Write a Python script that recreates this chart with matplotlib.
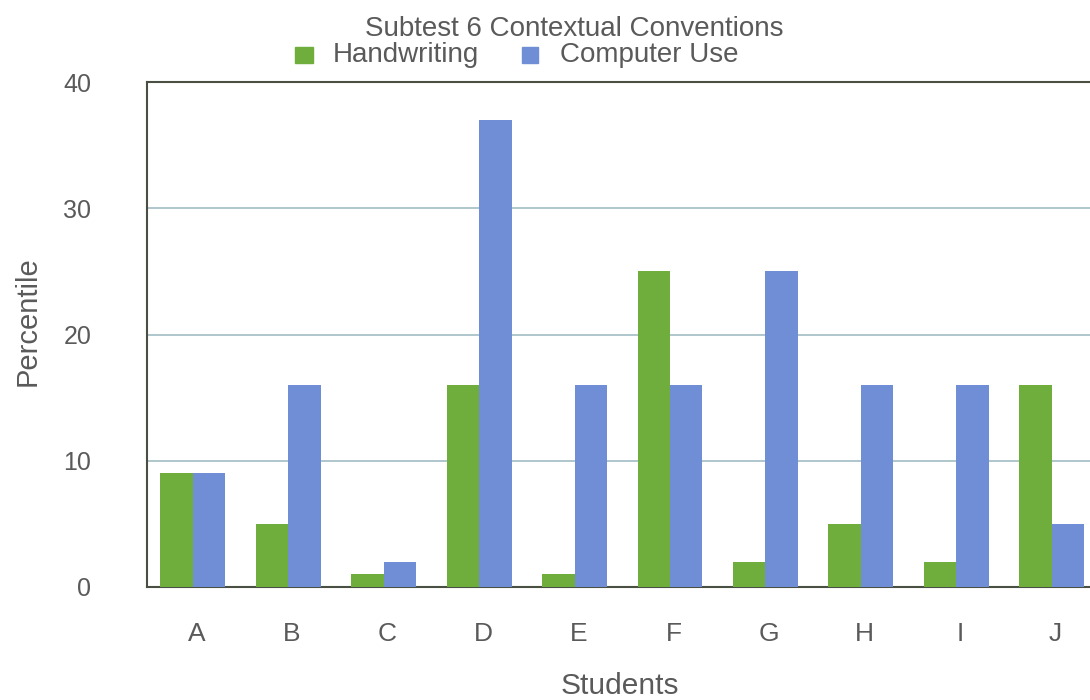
import numpy as np
import matplotlib
matplotlib.use("Agg")
import matplotlib.pyplot as plt
from matplotlib.patches import Rectangle

plt.rcParams["font.family"] = ["Liberation Sans", "DejaVu Sans"]

students = ["A", "B", "C", "D", "E", "F", "G", "H", "I", "J"]
handwriting = [9, 5, 1, 16, 1, 25, 2, 5, 2, 16]
computer_use = [9, 16, 2, 37, 16, 16, 25, 16, 16, 5]
y_ticks = [0, 10, 20, 30, 40]

green = "#6fae3c"
blue = "#6f8ed6"
text_color = "#5a5a5a"

W, H = 1090, 700
fig = plt.figure(figsize=(W / 100, H / 100), dpi=100)
ax = fig.add_axes([147 / W, 1 - 587 / H, 1 - 147 / W, (587 - 82) / H])

x = np.arange(len(students))
w = 0.34
ax.bar(x - w / 2, handwriting, width=w, color=green, zorder=3)
ax.bar(x + w / 2, computer_use, width=w, color=blue, zorder=3)

ax.set_xlim(-0.48, 9.40)
ax.set_ylim(0, 40)
ax.set_yticks(y_ticks)
ax.set_xticks(x + 0.04)
ax.set_xticklabels(students)
ax.tick_params(axis="both", length=0, colors=text_color)
ax.tick_params(axis="y", labelsize=18, pad=40)
ax.tick_params(axis="x", labelsize=19, pad=25)

for v in y_ticks[1:-1]:
    ax.axhline(v, color="#9fbcc4", lw=1.2, zorder=1)

for side in ["left", "top", "bottom"]:
    ax.spines[side].set_color("#4a4f44")
    ax.spines[side].set_linewidth(1.5)
ax.spines["right"].set_visible(False)

ax.set_xlabel("Students", fontsize=21.5, color=text_color)
ax.xaxis.label.set_va("center")
ax.xaxis.set_label_coords((620 - 147) / 943, (587 - 686) / 505)
ax.set_ylabel("Percentile", fontsize=21, color=text_color)
ax.yaxis.label.set_va("center")
ax.yaxis.set_label_coords((28 - 147) / 943, (587 - 321) / 505)

fig.text(574 / W, 1 - 29 / H, "Subtest 6 Contextual Conventions",
         ha="center", va="center", fontsize=20, color=text_color)
fig.patches.append(Rectangle((295 / W, 1 - 63 / H), 18 / W, 16 / H,
                             transform=fig.transFigure, color=green))
fig.text(333 / W, 1 - 55 / H, "Handwriting", ha="left", va="center",
         fontsize=20, color=text_color)
fig.patches.append(Rectangle((522 / W, 1 - 63 / H), 16 / W, 16 / H,
                             transform=fig.transFigure, color=blue))
fig.text(560 / W, 1 - 55 / H, "Computer Use", ha="left", va="center",
         fontsize=20, color=text_color)

fig.savefig("out.png", dpi=100)
